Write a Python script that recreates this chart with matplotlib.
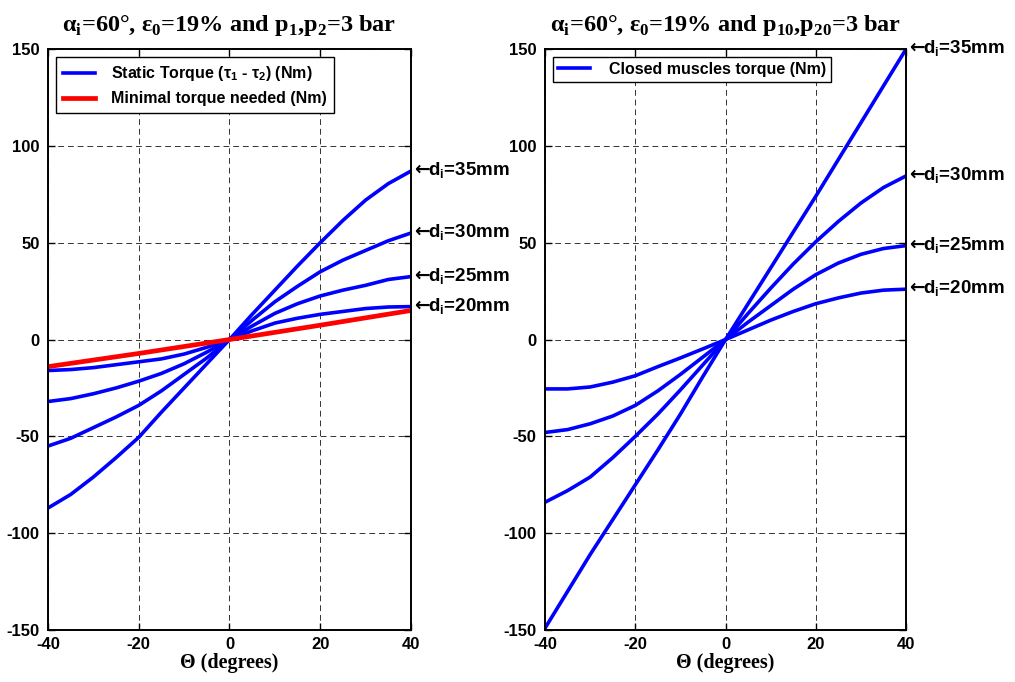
import numpy as np
import matplotlib.pyplot as plt

plt.rcParams.update({
    "font.family": ["Liberation Sans", "DejaVu Sans"],
    "font.weight": "bold",
    "axes.labelweight": "bold",
    "axes.titleweight": "bold",
    "axes.linewidth": 1.4,
    "axes.unicode_minus": False,
})

# -------------------------------------------------
# Data
# -------------------------------------------------
theta = [-40, -35, -30, -25, -20, -15, -10, -5, 0, 5, 10, 15, 20, 25, 30, 35, 40]

# left panel: static torque for each d_i (Nm)
left_35 = [-87, -80, -71, -61, -50.5, -37.5, -25, -12.5, 0, 13, 25.5, 38, 50, 61.5, 72, 80.5, 87]
left_30 = [-55, -51, -45.5, -40, -34, -26.5, -18, -9.5, 0, 10, 19.5, 27.5, 35, 41, 46, 51, 55]
left_25 = [-32, -30.5, -28, -25, -21.5, -17.5, -12.5, -6.5, 0, 7, 13.5, 18.5, 22.5, 25.5, 28, 31, 32.5]
left_20 = [-16, -15.5, -14.5, -13, -11.5, -10, -7.5, -4, 0, 4.5, 8.5, 11, 13, 14.5, 16, 16.8, 17]

theta_min = [-40, -20, 0, 20, 40]
min_torque = [-14, -7.2, 0, 7.4, 15]

# right panel: closed muscles torque (Nm)
right_35 = [-149, -130, -111, -93, -75, -57, -38.5, -19, 0, 18.5, 37, 55.5, 74, 93, 112, 131, 150]
right_30 = [-84, -78, -71, -61, -50, -38.5, -26, -13, 0, 13.5, 26.5, 39, 50.5, 61, 70.5, 78.5, 84.5]
right_25 = [-48, -46.5, -43.5, -39.5, -34, -26.5, -18, -9, 0, 9, 17.5, 26, 33.5, 39.5, 44, 47, 48.5]
right_20 = [-25.5, -25.5, -24.5, -22, -18.7, -14, -9.5, -4.8, 0, 5, 10, 14.5, 18.5, 21.5, 24, 25.5, 26]

diameters = ["35", "30", "25", "20"]

titles = [
    "α$_\\mathregular{i}$=60°, ε$_\\mathregular{0}$=19% and p$_\\mathregular{1}$,p$_\\mathregular{2}$=3 bar",
    "α$_\\mathregular{i}$=60°, ε$_\\mathregular{0}$=19% and p$_\\mathregular{10}$,p$_\\mathregular{20}$=3 bar",
]

blue = "#0000ff"
red = "#ff0000"

# -------------------------------------------------
# Figure
# -------------------------------------------------
fig = plt.figure(figsize=(10.15, 6.82), dpi=100)
ax1 = fig.add_axes([0.0473, 0.0762, 0.3576, 0.8519])
ax2 = fig.add_axes([0.5370, 0.0762, 0.3557, 0.8519])

serif = {"family": ["Liberation Serif", "DejaVu Serif"], "weight": "bold"}

def style(ax, title):
    ax.set_xlim(-40, 40)
    ax.set_ylim(-150, 150)
    ax.set_xticks([-40, -20, 0, 20, 40])
    ax.set_yticks([-150, -100, -50, 0, 50, 100, 150])
    ax.tick_params(direction="in", length=5, width=1, top=True, right=True,
                   labelsize=12)
    ax.tick_params(axis="x", pad=5)
    ax.tick_params(axis="y", pad=6)
    for lab in ax.get_xticklabels() + ax.get_yticklabels():
        lab.set_fontweight("bold")
    ax.grid(True, color="0.2", linestyle=(0, (6, 4)), linewidth=0.7)
    ax.set_axisbelow(True)
    ax.set_title(title, fontdict=dict(serif, size=17.5), pad=13)
    ax.set_xlabel("Θ (degrees)", fontdict=dict(serif, size=14.5), labelpad=1)

def label_curves(ax, curves):
    for d, vals in zip(diameters, curves):
        ax.text(40, vals[-1], "$\\leftarrow\\!\\!$d$_\\mathregular{i}$=" + d + "mm",
                ha="left", va="center", fontsize=13.5, fontweight="bold",
                family=["Liberation Sans", "DejaVu Sans"], clip_on=False)

# left panel
left_curves = [left_35, left_30, left_25, left_20]
for i, vals in enumerate(left_curves):
    ax1.plot(theta, vals, color=blue, lw=2.6,
             label="Static Torque (τ$_\\mathregular{1}$ - τ$_\\mathregular{2}$) (Nm)" if i == 0 else None)
ax1.plot(theta_min, min_torque, color=red, lw=3.4, label="Minimal torque needed (Nm)")
style(ax1, titles[0])
label_curves(ax1, left_curves)
leg1 = ax1.legend(loc="upper left", fancybox=False, framealpha=1,
                  edgecolor="black", handlelength=2.0, handletextpad=1.0,
                  labelspacing=0.5, borderaxespad=0.5, borderpad=0.45,
                  prop={"weight": "bold", "size": 11.5})
leg1.get_frame().set_linewidth(1.0)

# right panel
right_curves = [right_35, right_30, right_25, right_20]
for i, vals in enumerate(right_curves):
    ax2.plot(theta, vals, color=blue, lw=2.6,
             label="Closed muscles torque (Nm)" if i == 0 else None)
style(ax2, titles[1])
label_curves(ax2, right_curves)
leg2 = ax2.legend(loc="upper left", fancybox=False, framealpha=1,
                  edgecolor="black", handlelength=2.0, handletextpad=1.2,
                  borderaxespad=0.5, borderpad=0.3,
                  prop={"weight": "bold", "size": 11.5})
leg2.get_frame().set_linewidth(1.0)

fig.savefig("out.png", dpi=100)
